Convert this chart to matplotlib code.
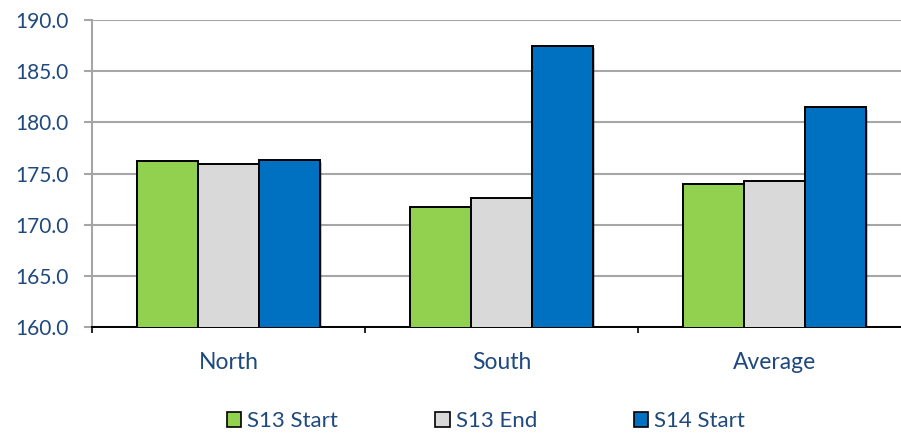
import matplotlib
matplotlib.use("Agg")
import matplotlib.pyplot as plt
import matplotlib.patheffects as pe
from matplotlib.patches import Patch
import numpy as np

categories = ["North", "South", "Average"]
series_names = ["S13 Start", "S13 End", "S14 Start"]
s13_start = [176.25, 171.7, 173.95]
s13_end = [175.9, 172.6, 174.25]
s14_start = [176.35, 187.45, 181.45]
colors = ["#92D050", "#D9D9D9", "#0070C0"]
yticks = [160, 165, 170, 175, 180, 185, 190]

text_color = "#1F497D"
plt.rcParams["font.family"] = ["Lato", "DejaVu Sans"]

fig = plt.figure(figsize=(9.01, 4.34), dpi=100)
ax = fig.add_axes([92 / 901, 1 - 327 / 434, 819 / 901, 307 / 434])

x = np.arange(len(categories))
w = 0.223
for i, (vals, col) in enumerate(zip([s13_start, s13_end, s14_start], colors)):
    bars = ax.bar(x + (i - 1) * w, vals, width=w, bottom=0, color=col,
                  edgecolor="black", linewidth=1.4, zorder=3)
    for b in bars:
        b.set_path_effects([pe.SimplePatchShadow(offset=(1.5, -1.5), alpha=0.25),
                            pe.Normal()])

ax.set_ylim(160, 190)
ax.set_xlim(-0.5, 2.5)
ax.set_yticks(yticks)
ax.set_yticklabels([f"{v:.1f}" for v in yticks], fontsize=15, color=text_color)
ax.yaxis.grid(True, color="#A6A6A6", linewidth=1.5, zorder=0)
ax.set_axisbelow(True)

ax.set_xticks(x)
ax.set_xticklabels(categories, fontsize=16.5, color=text_color)
ax.set_xticks([-0.5, 0.5, 1.5, 2.5], minor=True)
ax.tick_params(axis="x", which="major", length=0, pad=18)
ax.tick_params(axis="x", which="minor", length=4.3, width=1.2, color="black")
ax.tick_params(axis="y", length=6, width=1.5, color="#A6A6A6", pad=11)

for s in ["top", "right"]:
    ax.spines[s].set_visible(False)
ax.spines["left"].set_color("#A6A6A6")
ax.spines["left"].set_linewidth(1.5)
ax.spines["bottom"].set_color("black")
ax.spines["bottom"].set_linewidth(1.4)

handles = [Patch(facecolor=c, edgecolor="black", linewidth=1.2) for c in colors]
fig.legend(handles, series_names, loc="center", bbox_to_anchor=(486 / 901, 1 - 421 / 434),
           ncol=3, frameon=False, fontsize=16, handlelength=0.65, handleheight=0.65,
           handletextpad=0.27, columnspacing=4.37, labelcolor=text_color)

fig.savefig("out.png", dpi=100)
